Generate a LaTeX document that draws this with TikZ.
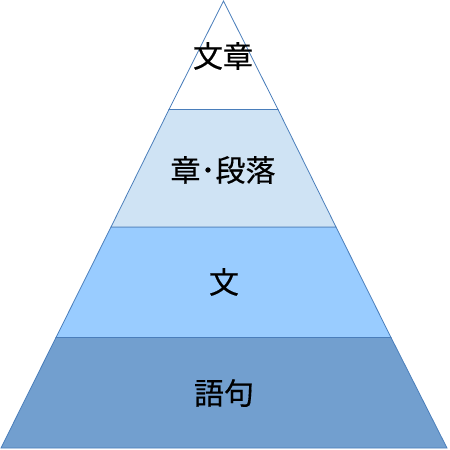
\documentclass[tikz,border=0pt]{standalone}
\usepackage{fontspec}
\newfontfamily\cjk[FakeBold=0.4]{Noto Sans CJK JP}
\definecolor{edge}{HTML}{4A7EBB}
\definecolor{layerA}{HTML}{FFFFFF}
\definecolor{layerB}{HTML}{CFE3F4}
\definecolor{layerC}{HTML}{99CCFF}
\definecolor{layerD}{HTML}{729FCF}
\tikzset{
  layer/.style={draw=edge, line width=0.8pt, line join=miter},
  lbl/.style={font=\cjk\fontsize{30}{33}\selectfont, text=black, inner sep=0pt}
}
\begin{document}
\begin{tikzpicture}[x=1pt,y=-1pt]
\useasboundingbox (0,0) rectangle (450,450);
% coordinates (y measured downward)
\coordinate (apex) at (223.5,1);
\coordinate (aL) at (169,109.5);  \coordinate (aR) at (278,109.5);
\coordinate (bL) at (111,227);    \coordinate (bR) at (336,227);
\coordinate (cL) at (56,337.5);   \coordinate (cR) at (391,337.5);
\coordinate (dL) at (1,448);      \coordinate (dR) at (447,448);
\filldraw[layer, fill=layerD] (cL) -- (cR) -- (dR) -- (dL) -- cycle;
\filldraw[layer, fill=layerC] (bL) -- (bR) -- (cR) -- (cL) -- cycle;
\filldraw[layer, fill=layerB] (aL) -- (aR) -- (bR) -- (bL) -- cycle;
\filldraw[layer, fill=layerA] (apex) -- (aR) -- (aL) -- cycle;
\node[lbl] (t1) at (223,56) {文章};
\node[lbl] (t2) at (223,170) {章･段落};
\node[lbl] (t3) at (224,282) {文};
\node[lbl] (t4) at (224,393) {語句};
\end{tikzpicture}
\end{document}
